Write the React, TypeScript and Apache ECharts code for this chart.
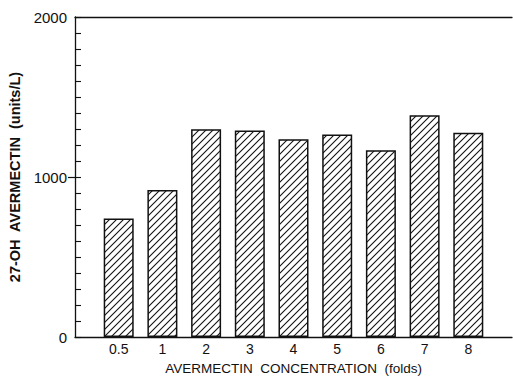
import React, { useEffect, useRef } from "react";
import * as echarts from "echarts";

const categories = ["0.5", "1", "2", "3", "4", "5", "6", "7", "8"];
const values = [740, 918, 1298, 1291, 1236, 1265, 1167, 1386, 1276];
const yTickLabels = [0, 1000, 2000];
const xTitle = "AVERMECTIN  CONCENTRATION  (folds)";
const yTitle = "27-OH  AVERMECTIN  (units/L)";

const hatchSvg =
  "<svg xmlns='http://www.w3.org/2000/svg' width='7' height='7'>" +
  "<path d='M-1,8 L8,-1 M-1,1 L1,-1 M6,8 L8,6' stroke='#111' stroke-width='1.1' fill='none'/></svg>";
const hatchUrl = "data:image/svg+xml;charset=utf-8," + encodeURIComponent(hatchSvg);

export default function App() {
  const ref = useRef<HTMLDivElement>(null);
  useEffect(() => {
    if (!ref.current) return;
    const chart = echarts.init(ref.current, null, { renderer: "svg" });
    const font = "'Liberation Sans', Arial, sans-serif";
    chart.setOption({
      animation: false,
      backgroundColor: "#fff",
      grid: { left: 75, right: 1, top: 17, bottom: 40, containLabel: false, outerBoundsMode: "none" },
      xAxis: [
        {
          type: "value",
          position: "bottom",
          min: -1,
          max: categories.length,
          interval: 1,
          splitLine: { show: false },
          axisLine: { show: true, onZero: false, lineStyle: { color: "#111", width: 1.3 } },
          axisTick: { show: false },
          axisLabel: {
            color: "#111",
            fontFamily: font,
            fontSize: 14,
            margin: 5,
            formatter: (v: number) =>
              v >= 0 && v < categories.length && Number.isInteger(v) ? categories[v] : "",
          },
          name: xTitle,
          nameLocation: "middle",
          nameGap: 24,
          nameTextStyle: { color: "#111", fontFamily: font, fontSize: 13.5, verticalAlign: "top" },
        },
        {
          type: "value",
          position: "top",
          min: -1,
          max: categories.length,
          splitLine: { show: false },
          axisLine: { show: true, onZero: false, lineStyle: { color: "#111", width: 1.3 } },
          axisTick: { show: false },
          axisLabel: { show: false },
        },
      ],
      yAxis: [
        {
          type: "value",
          position: "left",
          min: yTickLabels[0],
          max: yTickLabels[yTickLabels.length - 1],
          interval: 1000,
          splitLine: { show: false },
          axisLine: { show: true, onZero: false, lineStyle: { color: "#111", width: 1.3 } },
          axisTick: { show: true, inside: false, length: 7, customValues: [1000], lineStyle: { color: "#111", width: 1.2 } },
          axisLabel: {
            color: "#111",
            fontFamily: font,
            fontSize: 15,
            margin: 8,
            formatter: (v: number) => String(v),
          },
          name: yTitle,
          nameLocation: "middle",
          nameRotate: 90,
          nameGap: 47,
          nameTextStyle: { color: "#111", fontFamily: font, fontSize: 14.5, fontWeight: "bold" },
        },
        {
          type: "value",
          position: "left",
          min: 0,
          max: 2000,
          interval: 100,
          splitLine: { show: false },
          axisLine: { show: false, onZero: false },
          axisTick: { show: true, inside: true, length: 6, lineStyle: { color: "#111", width: 1.1 } },
          axisLabel: { show: false },
        },
      ],
      series: [
        {
          type: "bar",
          xAxisIndex: 0,
          yAxisIndex: 0,
          barWidth: 30,
          data: values.map((v, i) => [i, v]),
          itemStyle: {
            color: { image: hatchUrl, repeat: "repeat", imageWidth: 7, imageHeight: 7 },
            borderColor: "#111",
            borderWidth: 1.5,
          },
        },
      ],
    });
    return () => chart.dispose();
  }, []);
  return (
    <div
      ref={ref}
      style={{ position: "fixed", left: 0, top: 0, width: 513, height: 377, background: "#fff" }}
    />
  );
}
